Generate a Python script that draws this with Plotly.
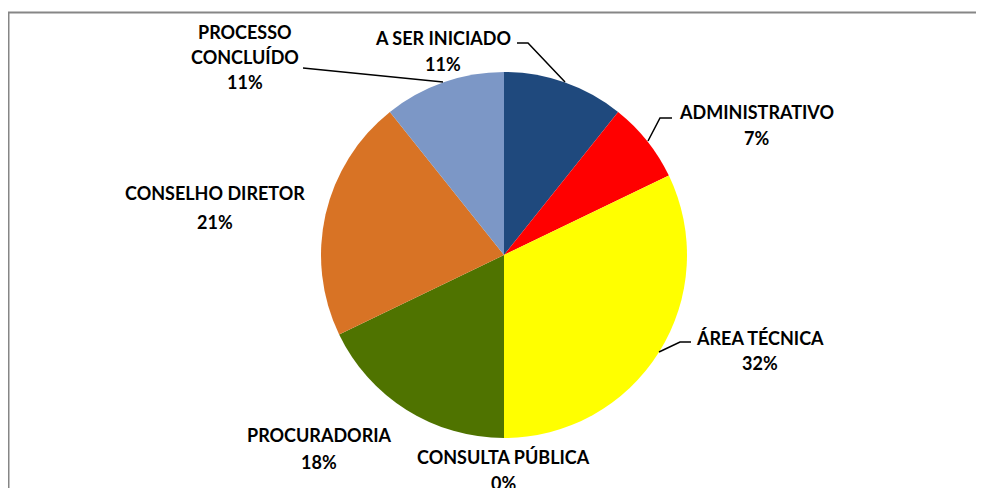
import plotly.graph_objects as go

# status counts
categories = ['A SER INICIADO', 'ADMINISTRATIVO', 'ÁREA TÉCNICA', 'CONSULTA PÚBLICA',
              'PROCURADORIA', 'CONSELHO DIRETOR', 'PROCESSO CONCLUÍDO']
counts = [3, 2, 9, 0, 5, 6, 3]
colors = ['#1F497D', '#FF0000', '#FFFF00', '#7F7F7F', '#4F7300', '#D87325', '#7C97C6']

W, H = 984, 488
# the page body has an 8px margin, so work in window pixels minus 8
OFF = 8
CX, CY, R = 504, 255, 183

# label text lines and where they sit (window pixels, centre of each line)
label_lines = {
    'A SER INICIADO': (['A SER INICIADO'], 443, 38, 26),
    'ADMINISTRATIVO': (['ADMINISTRATIVO'], 756, 112, 26),
    'ÁREA TÉCNICA': (['ÁREA TÉCNICA'], 760, 338, 25),
    'CONSULTA PÚBLICA': (['CONSULTA PÚBLICA'], 504, 457, 26),
    'PROCURADORIA': (['PROCURADORIA'], 319, 435, 27),
    'CONSELHO DIRETOR': (['CONSELHO DIRETOR'], 215, 193, 29),
    'PROCESSO CONCLUÍDO': (['PROCESSO', 'CONCLUÍDO'], 245, 32, 25),
}

# leader lines (window pixels)
leaders = [
    [(517, 43), (528, 43), (565, 82)],
    [(303, 68), (443, 82)],
    [(672, 118), (660, 118), (648, 141)],
    [(691, 342), (680, 342), (659, 352)],
]


def px(x):
    return (x - OFF) / W


def py(y):
    return 1 - (y - OFF) / H


total = sum(counts)
pct = [round(100 * c / total) for c in counts]

fig = go.Figure(go.Pie(
    labels=categories,
    values=counts,
    sort=False,
    direction='clockwise',
    textinfo='none',
    hoverinfo='label+percent',
    marker=dict(colors=colors, line=dict(width=0)),
    domain=dict(x=[px(CX - R), px(CX + R)], y=[py(CY + R), py(CY - R)]),
    showlegend=False,
))

font = dict(family='Lato', size=18, color='#000000', weight='bold')
annotations = []
for name, p in zip(categories, pct):
    lines, x, y, step = label_lines[name]
    lines = lines + ['%d%%' % p]
    for i, t in enumerate(lines):
        annotations.append(dict(
            text=t, x=px(x), y=py(y + i * step), xref='paper', yref='paper',
            xanchor='center', yanchor='middle', showarrow=False, font=font))

shapes = []
for pts in leaders:
    path = 'M ' + ' L '.join('%f,%f' % (px(a), py(b)) for a, b in pts)
    shapes.append(dict(type='path', path=path, xref='paper', yref='paper',
                       line=dict(color='#000000', width=1.5)))

# chart frame
shapes.append(dict(type='rect', xref='paper', yref='paper',
                   x0=px(8.5), y0=py(500), x1=px(1000), y1=py(12.5),
                   line=dict(color='#868686', width=2)))

fig.update_layout(
    width=W, height=H,
    margin=dict(l=0, r=0, t=0, b=0),
    paper_bgcolor='white',
    plot_bgcolor='white',
    annotations=annotations,
    shapes=shapes,
)

fig.write_html('out.html')
